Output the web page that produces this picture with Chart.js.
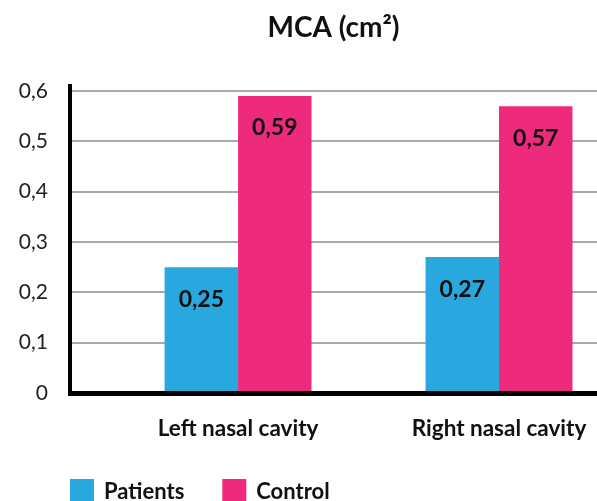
<!DOCTYPE html>
<html>
<head>
<meta charset="utf-8">
<title>MCA (cm²)</title>
<script src="https://cdn.jsdelivr.net/npm/chart.js@4/dist/chart.umd.min.js"></script>
<style>
  html, body { margin: 0; padding: 0; background: #fff; }
  #wrap { width: 597px; height: 501px; overflow: hidden; }
  canvas { display: block; }
</style>
</head>
<body>
<div id="wrap"><canvas id="chart" width="597" height="501"></canvas></div>
<script>
// Minimal cross-sectional area by nasal cavity
const categories = ['Left nasal cavity', 'Right nasal cavity'];
const patients = [0.25, 0.27];
const control = [0.59, 0.57];
const yTicks = [0, 0.1, 0.2, 0.3, 0.4, 0.5, 0.6];
const seriesNames = ['Patients', 'Control'];
const seriesColors = ['#29a8df', '#ed2a7b'];

const FONT = 'Lato, "Open Sans", sans-serif';
const fmt = (v, d) => (v === 0 ? '0' : v.toFixed(d).replace('.', ','));

// points placed on a linear index axis: category i sits at x = i
const toPoints = arr => arr.map((v, i) => ({ x: i, y: v }));

// value labels printed inside the top of each bar
const barValueLabels = {
  id: 'barValueLabels',
  afterDatasetsDraw(chart) {
    const ctx = chart.ctx;
    ctx.save();
    ctx.font = 'bold 23px ' + FONT;
    ctx.fillStyle = '#111';
    ctx.textAlign = 'center';
    ctx.textBaseline = 'middle';
    chart.data.datasets.forEach((ds, di) => {
      chart.getDatasetMeta(di).data.forEach((bar, i) => {
        ctx.fillText(fmt(ds.data[i].y, 2), bar.x, bar.y + 32);
      });
    });
    ctx.restore();
  }
};

// legend row along the bottom-left edge
const bottomLegend = {
  id: 'bottomLegend',
  afterDraw(chart) {
    const ctx = chart.ctx;
    ctx.save();
    ctx.font = 'bold 22px ' + FONT;
    ctx.textBaseline = 'alphabetic';
    ctx.textAlign = 'left';
    let x = 70;
    chart.data.datasets.forEach(ds => {
      ctx.fillStyle = ds.backgroundColor;
      ctx.fillRect(x, 479, 24, 22);
      ctx.fillStyle = '#111';
      ctx.fillText(ds.label, x + 34, 499);
      x += 34 + ctx.measureText(ds.label).width + 38;
    });
    ctx.restore();
  }
};

new Chart(document.getElementById('chart'), {
  type: 'bar',
  data: {
    datasets: [
      { label: seriesNames[0], data: toPoints(patients), backgroundColor: seriesColors[0] },
      { label: seriesNames[1], data: toPoints(control), backgroundColor: seriesColors[1] }
    ]
  },
  options: {
    responsive: false,
    animation: false,
    devicePixelRatio: 1,
    layout: { padding: 0 },
    datasets: {
      bar: { barPercentage: 1, categoryPercentage: 0.563, borderWidth: 0 }
    },
    plugins: {
      legend: { display: false },
      tooltip: { enabled: false },
      title: {
        display: true,
        fullSize: false,
        text: 'MCA (cm²)',
        color: '#111',
        font: { family: FONT, size: 28, weight: 'bold' },
        padding: { top: 11, bottom: 41.4 }
      }
    },
    scales: {
      x: {
        type: 'linear',
        offset: false,
        bounds: 'data',
        min: -0.644,
        max: 1.3755,
        afterBuildTicks(scale) {
          scale.ticks = categories.map((c, i) => ({ value: i }));
        },
        afterFit(scale) {
          scale.height = 108;
          scale.paddingLeft = 0;
          scale.paddingRight = 0;
        },
        grid: { display: false, drawTicks: false, offset: false },
        border: { display: true, color: '#000', width: 5, z: 1 },
        ticks: {
          padding: 22,
          color: '#111',
          font: { family: FONT, size: 22.5, weight: 'bold' },
          maxRotation: 0,
          autoSkip: false,
          callback: v => categories[v] ?? ''
        }
      },
      y: {
        min: 0,
        max: 0.61,
        afterBuildTicks(scale) {
          scale.ticks = yTicks.map(v => ({ value: v }));
        },
        afterFit(scale) { scale.width = 70; },
        grid: { color: '#a9a9ab', lineWidth: 2, drawTicks: false },
        border: { display: true, color: '#000', width: 4, z: 1 },
        ticks: {
          padding: 22,
          color: '#222',
          font: { family: FONT, size: 21 },
          callback: v => fmt(v, 1)
        }
      }
    }
  },
  plugins: [barValueLabels, bottomLegend]
});
</script>
</body>
</html>
